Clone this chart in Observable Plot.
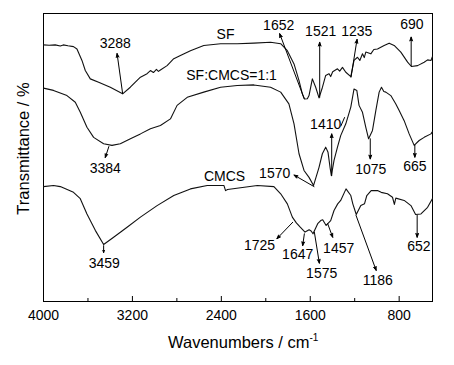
<!DOCTYPE html>
<html><head><meta charset="utf-8">
<script src="https://cdn.jsdelivr.net/npm/d3@7"></script>
<script src="https://cdn.jsdelivr.net/npm/@observablehq/plot@0.6"></script>
<style>body{margin:0;background:#fff}</style>
</head><body><div id="chart"></div>
<script>
// SF spectrum
const sfWave = [4000,3950,3895,3849,3822,3780,3730,3699,3654,3624,3579,3504,3399,3288,3219,3128,3068,3038,3011,2984,2966,2948,2888,2828,2768,2678,2558,2407,2257,2107,1957,1866,1806,1746,1701,1671,1652,1626,1611,1581,1551,1521,1490,1461,1431,1416,1398,1355,1335,1310,1280,1235,1206,1175,1154,1130,1114,1100,1055,1028,995,935,890,845,785,724,690,634,575,544,514,500];
const sfT = [89.1,89.0,89.1,88.7,89.1,88.8,88.5,87.7,83.7,80.2,77.3,76.1,74.4,72.1,74.4,77.9,79.1,80.2,79.5,80.6,79.9,80.4,81.9,84.3,85.4,87.1,88.9,89.5,89.5,89.7,90.0,89.5,87.1,82.5,76.7,72.1,70.3,70.4,71.5,77.3,74.4,70.7,74.4,78.5,79.1,78.1,79.8,80.8,80.0,81.3,79.6,78.1,83.7,84.8,83.7,86.0,84.7,86.6,86.0,87.5,87.7,88.9,89.7,88.9,86.6,83.1,81.6,81.9,83.1,83.9,83.7,85.1];
// SF:CMCS=1:1 spectrum
const mixWave = [4000,3910,3789,3714,3669,3609,3549,3459,3384,3309,3218,3128,3038,2948,2858,2798,2707,2558,2407,2257,2107,1957,1866,1792,1746,1701,1656,1611,1570,1521,1491,1461,1440,1422,1410,1386,1355,1326,1280,1235,1206,1181,1161,1130,1100,1075,1040,1010,980,959,938,920,875,830,800,755,710,665,620,575,514,500];
const mixT = [74.1,73.3,71.5,69.2,65.7,60.5,57.0,54.8,54.2,54.8,56.5,58.2,60.0,61.1,63.4,68.1,70.9,72.7,74.4,75.0,75.2,74.4,72.7,68.6,61.7,51.3,45.5,43.1,40.3,46.6,51.3,53.6,51.8,46.6,43.7,49.0,53.6,57.6,61.7,67.5,73.8,73.3,68.1,65.7,60.5,56.5,59.4,66.3,72.7,74.4,72.9,72.7,71.5,68.6,66.3,62.8,58.2,54.2,55.9,57.0,58.2,59.0];
// CMCS spectrum
const cmWave = [4000,3910,3849,3730,3669,3609,3534,3459,3369,3248,3128,2978,2828,2678,2527,2377,2362,2344,2227,2076,1927,1866,1806,1761,1725,1690,1647,1610,1592,1575,1533,1506,1488,1457,1416,1386,1353,1326,1278,1235,1217,1186,1145,1112,1091,1052,995,962,905,860,843,830,755,694,652,604,544,500];
const cmT = [39.9,40.3,39.9,37.9,35.7,30.4,24.7,19.8,22.3,25.8,29.3,33.3,36.8,39.1,40.3,40.3,38.5,38.9,39.5,40.3,39.9,37.4,33.9,29.3,27.3,25.8,24.1,24.9,24.5,23.5,27.0,28.1,28.4,26.4,28.1,31.6,33.9,35.1,39.1,36.8,33.9,30.2,33.3,33.9,36.8,38.5,38.5,37.9,37.4,36.2,33.7,35.9,35.1,33.3,30.2,30.4,32.7,35.8];

// annotations
const labelText = ["SF","SF:CMCS=1:1","CMCS","3288","3384","3459","1652","1521","1235","690","1410","1075","665","1570","1725","1647","1575","1457","1186","652"];
const labelWave = [2362,2308,2371,3354,3444,3453,1884,1506,1181,686,1461,1055,659,1920,2056,1713,1497,1344,992,623];
const labelT = [92.7,78.5,43.4,89.6,46.2,13.2,95.8,93.7,93.7,96.2,61.5,45.8,46.9,44.4,19.4,16.3,9.7,18.4,7.3,19.1];

const arrowFromW = [3288,3412,3459,1655,1515,1233,692,1407,1060,659,1566,1758,1653,1563,1443,1188,638];
const arrowFromT = [72.2,53.8,19.4,70.5,70.9,77.9,81.9,43.7,56.5,54.2,39.9,27.5,23.5,24.1,27.0,29.9,29.9];
const arrowToW = [3338,3444,3459,1875,1515,1179,692,1407,1060,659,1746,1900,1668,1518,1398,1007,638];
const arrowToT = [86.1,50.0,17.0,93.0,90.0,91.0,91.8,58.2,49.5,50.1,43.9,21.8,19.4,13.3,22.3,10.8,22.3];
const strayW = [1326,1290];
const strayT = [60.8,64.0];

const majorTicks = [4000,3200,2400,1600,800];
const minorTicks = [3600,2800,2000,1200];
const xTitle = "Wavenumbers / cm";
const yTitle = "Transmittance / %";

const rows = (w, t, s) => w.map((x, i) => ({w: x, t: t[i], s}));
const spectra = [...rows(sfWave, sfT, "SF"), ...rows(mixWave, mixT, "SF:CMCS=1:1"), ...rows(cmWave, cmT, "CMCS")];
const labels = labelText.map((txt, i) => ({txt, w: labelWave[i], t: labelT[i]}));
const arrows = arrowFromW.map((w, i) => ({w1: w, t1: arrowFromT[i], w2: arrowToW[i], t2: arrowToT[i]}));

const FONT = "'Liberation Sans', Arial, sans-serif";
const H = 365, MT = 13, MB = 64;
const frameH = H - MT - MB;

const chart = Plot.plot({
  width: 454, height: H,
  marginLeft: 43, marginRight: 22, marginTop: MT, marginBottom: MB,
  style: {fontFamily: FONT, fontSize: "14px", color: "#000", background: "#fff"},
  x: {domain: [4000, 500]},
  y: {domain: [0, 100], axis: null},
  marks: [
    Plot.frame({stroke: "#000", strokeWidth: 1}),
    Plot.tickX(majorTicks, {x: d => d, insetTop: frameH - 5, stroke: "#000"}),
    Plot.tickX(minorTicks, {x: d => d, insetTop: frameH - 3, stroke: "#000"}),
    Plot.axisX({ticks: majorTicks, tickSize: 0, tickPadding: 9, tickFormat: d => String(d), label: null, fontSize: 14}),
    Plot.line(spectra, {x: "w", y: "t", z: "s", stroke: "#111", strokeWidth: 1.1, curve: "linear"}),
    Plot.arrow(arrows, {x1: "w1", y1: "t1", x2: "w2", y2: "t2", stroke: "#000", fill: "#000", strokeWidth: 1, headLength: 6, headAngle: 40}),
    Plot.link([0], {x1: () => strayW[0], y1: () => strayT[0], x2: () => strayW[1], y2: () => strayT[1], stroke: "#000"}),
    Plot.text(labels, {x: "w", y: "t", text: "txt", fontSize: 14, fill: "#000"}),
    Plot.text([xTitle], {text: d => d, frameAnchor: "bottom", textAnchor: "start", dx: -70, dy: 46, fontSize: 16.5, fill: "#000", className: "xtitle"}),
    Plot.text([yTitle], {text: d => d, frameAnchor: "left", textAnchor: "middle", rotate: -90, dx: -20, dy: -9, fontSize: 16.5, fill: "#000"})
  ]
});
document.getElementById("chart").appendChild(chart);
d3.select(chart).selectAll(".xtitle text").append("tspan").attr("dy", "-7").attr("font-size", "10").text("-1");
</script>
</body></html>
